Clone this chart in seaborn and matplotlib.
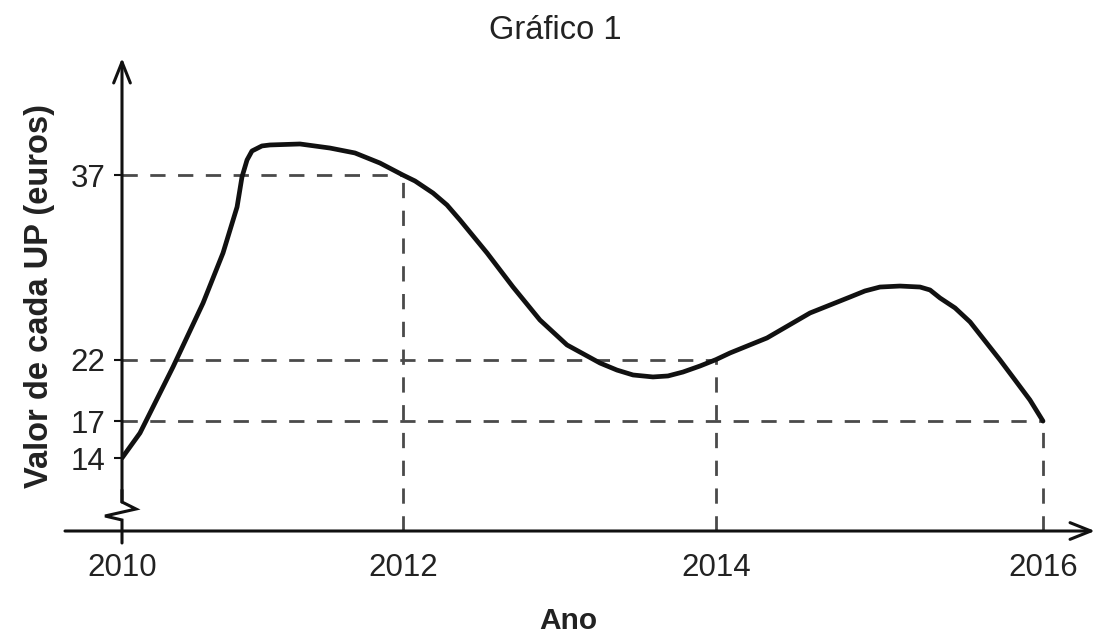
import numpy as np
import pandas as pd
import matplotlib
matplotlib.use("Agg")
import matplotlib.pyplot as plt
import seaborn as sns

# curve (year, value in euros)
anos = [2010.000, 2010.128, 2010.363, 2010.577, 2010.719, 2010.819,
        2010.854, 2010.890, 2010.925, 2010.996, 2011.053, 2011.267, 2011.480,
        2011.658, 2011.836, 2012.000, 2012.077, 2012.192, 2012.281, 2012.364,
        2012.537, 2012.703, 2012.875, 2013.048, 2013.259, 2013.367, 2013.470,
        2013.597, 2013.693, 2013.789, 2013.898, 2014.000, 2014.086, 2014.312,
        2014.575, 2014.820, 2014.911, 2015.003, 2015.125, 2015.248, 2015.309,
        2015.370, 2015.462, 2015.554, 2015.737, 2015.829, 2015.920, 2016.000]
valores = [14.00, 16.03, 21.40, 26.60, 30.67, 34.41,
           36.85, 38.23, 38.96, 39.37, 39.45, 39.53, 39.20,
           38.80, 37.98, 37.00, 36.52, 35.54, 34.57, 33.35,
           30.67, 27.90, 25.22, 23.19, 21.72, 21.15, 20.75,
           20.59, 20.67, 20.99, 21.48, 22.00, 22.54, 23.76,
           25.79, 27.09, 27.58, 27.90, 27.98, 27.90, 27.66,
           27.01, 26.20, 25.06, 21.97, 20.34, 18.72, 17.00]

# reference lines
ref_anos = [2012, 2014, 2016]
ref_valores = [37, 22, 17]

x_ticks = [2010, 2012, 2014, 2016]
y_ticks = [14, 17, 22, 37]

# the drawing is not evenly spaced in time: piecewise scale
knot_years = [2008, 2010, 2012, 2014, 2016, 2018]
knot_px = [-159, 122, 403, 716, 1043, 1370]


def fwd(x):
    return np.interp(x, knot_years, knot_px)


def inv(p):
    return np.interp(p, knot_px, knot_years)


df = pd.DataFrame({"ano": anos, "valor": valores})

sns.set_theme(style="white")
plt.rcParams["font.family"] = ["Liberation Sans", "DejaVu Sans"]

W, H = 1101, 634
fig = plt.figure(figsize=(W / 100, H / 100), dpi=100)
left, right, bottom, top = 122, 1095, 531, 58
ax = fig.add_axes([left / W, 1 - bottom / H, (right - left) / W, (bottom - top) / H])
ax.set_xscale("function", functions=(fwd, inv))
ax.set_xlim(2010, float(inv(right)))
ax.set_ylim(14 - (bottom - 458) / 12.3, 14 + (458 - top) / 12.3)

for s in ax.spines.values():
    s.set_visible(False)

dash_kw = dict(color="#4a4a4a", lw=2.0, dashes=(5.5, 4.5), zorder=1)
ymin = ax.get_ylim()[0]
for xa, ya in zip(ref_anos, ref_valores):
    ax.plot([2010, xa], [ya, ya], **dash_kw)
    ax.plot([xa, xa], [ymin, ya], **dash_kw)

sns.lineplot(data=df, x="ano", y="valor", sort=False, color="#111111",
             lw=3.4, ax=ax, zorder=3, solid_capstyle="round", solid_joinstyle="round")

# axes with arrows
axis_kw = dict(color="#111111", lw=2.2)
arrow = dict(arrowstyle="->,head_length=0.75,head_width=0.3", color="#111111",
             lw=2.2, mutation_scale=20, shrinkA=0, shrinkB=0)
ax.annotate("", xy=(1, 0), xytext=((65 - left) / (right - left), 0),
            xycoords="axes fraction", arrowprops=arrow, annotation_clip=False)
fy = lambda p: (bottom - p) / (bottom - top)
fx = lambda p: (p - left) / (right - left)
ax.annotate("", xy=(0, 1), xytext=(0, fy(502)),
            xycoords="axes fraction", arrowprops=arrow, annotation_clip=False)
# axis break zigzag and lower stub
ax.plot([fx(122), fx(122), fx(136), fx(105), fx(122), fx(122)],
        [fy(490), fy(502), fy(509), fy(516), fy(520), fy(543)],
        transform=ax.transAxes, clip_on=False, solid_joinstyle="miter", **axis_kw)

ax.set_xticks(x_ticks)
ax.set_xticklabels([str(t) for t in x_ticks])
ax.set_yticks(y_ticks)
ax.set_yticklabels([str(t) for t in y_ticks])
ax.tick_params(axis="x", length=0, pad=16, labelsize=22.5, labelcolor="#222222")
ax.tick_params(axis="y", length=6, width=1.5, color="#111111", direction="out",
               pad=6, labelsize=22.5, labelcolor="#222222", left=True)
ax.minorticks_off()
ax.set_xlabel("")
ax.set_ylabel("")

fig.text(555 / W, 1 - 39 / H, "Gráfico 1", ha="center", va="baseline",
         fontsize=23.5, color="#222222")
fig.text(40 / W, 1 - 296 / H, "Valor de cada UP (euros)", ha="center", va="center",
         rotation=90, fontsize=23.5, fontweight="bold", color="#222222")
fig.text(568 / W, 1 - 621 / H, "Ano", ha="center", va="center",
         fontsize=21.5, fontweight="bold", color="#222222")

fig.savefig("out.png", dpi=100, facecolor="white")
